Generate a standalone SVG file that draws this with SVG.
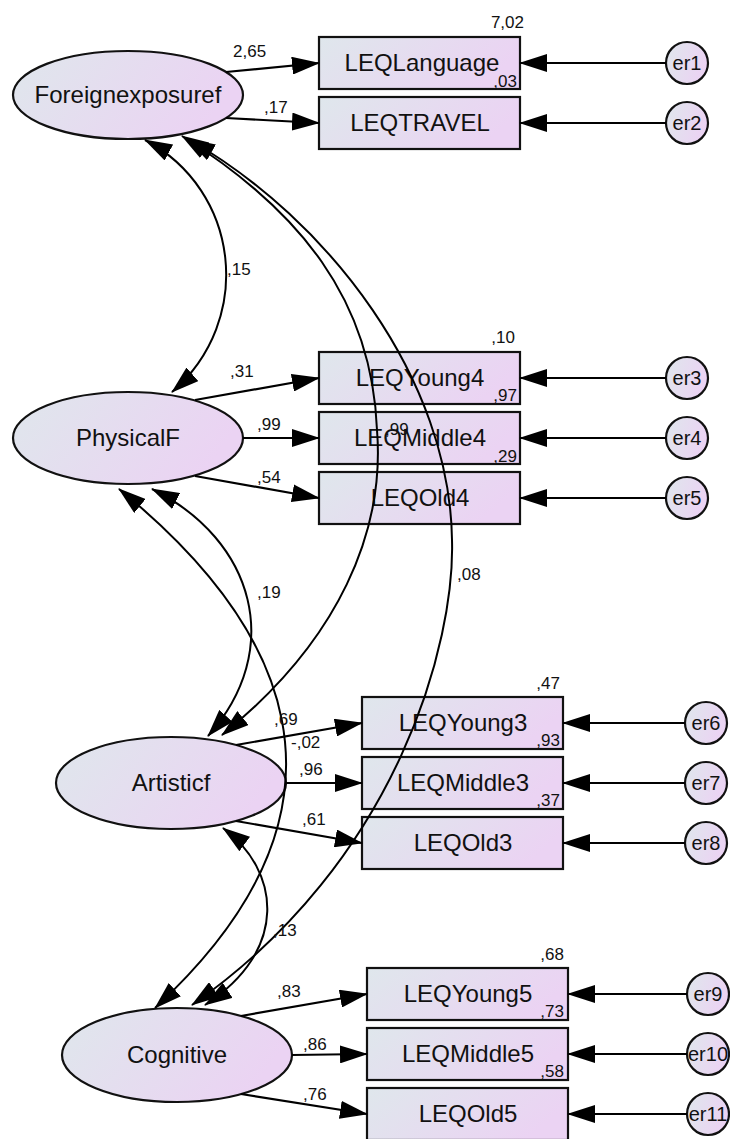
<svg xmlns="http://www.w3.org/2000/svg" width="730" height="1139" viewBox="0 0 730 1139">
  <style>
    .shape { fill: url(#fillGrad); stroke: #111; stroke-width: 2.2; }
    .name { font-family: "Liberation Sans", Arial, sans-serif; font-size: 24px; fill: #111; text-anchor: middle; }
    .err { font-family: "Liberation Sans", Arial, sans-serif; font-size: 20px; fill: #111; text-anchor: middle; }
    .num { font-family: "Liberation Sans", Arial, sans-serif; font-size: 17px; fill: #111; }
    .end { text-anchor: end; }
    .path { fill: none; stroke: #000; stroke-width: 2.2; marker-end: url(#head); }
    .cov { fill: none; stroke: #000; stroke-width: 2; marker-start: url(#head); marker-end: url(#head); }
  </style>
  <defs>
    <linearGradient id="fillGrad" x1="0" y1="0" x2="1" y2="0.3">
      <stop offset="0" stop-color="#dfe7ec"/>
      <stop offset="1" stop-color="#ebd3f3"/>
    </linearGradient>
    <marker id="head" markerUnits="userSpaceOnUse" markerWidth="28" markerHeight="18" viewBox="0 0 28 18" refX="27" refY="9" orient="auto-start-reverse">
      <path d="M0,0 L28,9 L0,18 Z" fill="#000"/>
    </marker>
  </defs>

  <rect width="730" height="1139" fill="#fff"/>

  <!-- latent factors -->
  <g id="foreignexposuref">
    <ellipse class="shape" cx="128" cy="95" rx="115" ry="44"/>
    <text class="name" x="128" y="103">Foreignexposuref</text>
  </g>
  <g id="physicalf">
    <ellipse class="shape" cx="128" cy="438" rx="115" ry="46"/>
    <text class="name" x="128" y="446">PhysicalF</text>
  </g>
  <g id="artisticf">
    <ellipse class="shape" cx="171" cy="783" rx="115" ry="46"/>
    <text class="name" x="171" y="791">Artisticf</text>
  </g>
  <g id="cognitive">
    <ellipse class="shape" cx="177" cy="1055" rx="115" ry="47"/>
    <text class="name" x="177" y="1063">Cognitive</text>
  </g>

  <!-- observed indicators -->
  <g id="leqlanguage">
    <rect class="shape" x="319" y="37" width="201" height="52"/>
    <text class="name" x="422" y="71">LEQLanguage</text>
    <text class="num end" x="524" y="28">7,02</text>
    <text class="num end" x="517" y="87">,03</text>
  </g>
  <g id="leqtravel">
    <rect class="shape" x="319" y="97" width="201" height="52"/>
    <text class="name" x="420" y="131">LEQTRAVEL</text>
  </g>
  <g id="leqyoung4">
    <rect class="shape" x="319" y="352" width="201" height="52"/>
    <text class="name" x="420" y="386">LEQYoung4</text>
    <text class="num end" x="515" y="343">,10</text>
    <text class="num end" x="517" y="401">,97</text>
  </g>
  <g id="leqmiddle4">
    <rect class="shape" x="319" y="412" width="201" height="52"/>
    <text class="name" x="420" y="446">LEQMiddle4</text>
    <text class="num end" x="517" y="462">,29</text>
  </g>
  <g id="leqold4">
    <rect class="shape" x="319" y="472" width="201" height="52"/>
    <text class="name" x="420" y="506">LEQOld4</text>
  </g>
  <g id="leqyoung3">
    <rect class="shape" x="362" y="697" width="201" height="52"/>
    <text class="name" x="463" y="731">LEQYoung3</text>
    <text class="num end" x="560" y="689">,47</text>
    <text class="num end" x="560" y="746">,93</text>
  </g>
  <g id="leqmiddle3">
    <rect class="shape" x="362" y="757" width="201" height="52"/>
    <text class="name" x="463" y="791">LEQMiddle3</text>
    <text class="num end" x="560" y="806">,37</text>
  </g>
  <g id="leqold3">
    <rect class="shape" x="362" y="817" width="201" height="52"/>
    <text class="name" x="463" y="851">LEQOld3</text>
  </g>
  <g id="leqyoung5">
    <rect class="shape" x="367" y="968" width="201" height="52"/>
    <text class="name" x="468" y="1002">LEQYoung5</text>
    <text class="num end" x="564" y="960">,68</text>
    <text class="num end" x="564" y="1017">,73</text>
  </g>
  <g id="leqmiddle5">
    <rect class="shape" x="367" y="1028" width="201" height="52"/>
    <text class="name" x="468" y="1062">LEQMiddle5</text>
    <text class="num end" x="564" y="1077">,58</text>
  </g>
  <g id="leqold5">
    <rect class="shape" x="367" y="1088" width="201" height="52"/>
    <text class="name" x="468" y="1122">LEQOld5</text>
  </g>

  <!-- error terms -->
  <g id="er1"><circle class="shape" cx="687" cy="63" r="21"/><text class="err" x="687" y="70">er1</text></g>
  <g id="er2"><circle class="shape" cx="687" cy="123" r="21"/><text class="err" x="687" y="130">er2</text></g>
  <g id="er3"><circle class="shape" cx="687" cy="378" r="21"/><text class="err" x="687" y="385">er3</text></g>
  <g id="er4"><circle class="shape" cx="687" cy="438" r="21"/><text class="err" x="687" y="445">er4</text></g>
  <g id="er5"><circle class="shape" cx="687" cy="498" r="21"/><text class="err" x="687" y="505">er5</text></g>
  <g id="er6"><circle class="shape" cx="706" cy="723" r="21"/><text class="err" x="706" y="730">er6</text></g>
  <g id="er7"><circle class="shape" cx="706" cy="783" r="21"/><text class="err" x="706" y="790">er7</text></g>
  <g id="er8"><circle class="shape" cx="706" cy="843" r="21"/><text class="err" x="706" y="850">er8</text></g>
  <g id="er9"><circle class="shape" cx="708" cy="994" r="21"/><text class="err" x="708" y="1001">er9</text></g>
  <g id="er10"><circle class="shape" cx="708" cy="1054" r="21"/><text class="err" x="708" y="1061">er10</text></g>
  <g id="er11"><circle class="shape" cx="708" cy="1114" r="21"/><text class="err" x="708" y="1121">er11</text></g>

  <g id="connectors">
    <!-- loadings -->
    <line class="path" x1="226" y1="72" x2="319" y2="63"/>
    <line class="path" x1="226" y1="118" x2="319" y2="123"/>
    <line class="path" x1="195" y1="400" x2="319" y2="378"/>
    <line class="path" x1="243" y1="438" x2="319" y2="438"/>
    <line class="path" x1="195" y1="476" x2="319" y2="498"/>
    <line class="path" x1="236" y1="745" x2="362" y2="723"/>
    <line class="path" x1="286" y1="783" x2="362" y2="783"/>
    <line class="path" x1="236" y1="821" x2="362" y2="843"/>
    <line class="path" x1="241" y1="1016" x2="367" y2="994"/>
    <line class="path" x1="292" y1="1055" x2="367" y2="1054"/>
    <line class="path" x1="241" y1="1094" x2="367" y2="1114"/>
    <!-- error paths -->
    <line class="path" x1="666" y1="63" x2="520" y2="63"/>
    <line class="path" x1="666" y1="123" x2="520" y2="123"/>
    <line class="path" x1="666" y1="378" x2="520" y2="378"/>
    <line class="path" x1="666" y1="438" x2="520" y2="438"/>
    <line class="path" x1="666" y1="498" x2="520" y2="498"/>
    <line class="path" x1="685" y1="723" x2="563" y2="723"/>
    <line class="path" x1="685" y1="783" x2="563" y2="783"/>
    <line class="path" x1="685" y1="843" x2="563" y2="843"/>
    <line class="path" x1="687" y1="994" x2="568" y2="994"/>
    <line class="path" x1="687" y1="1054" x2="568" y2="1054"/>
    <line class="path" x1="687" y1="1114" x2="568" y2="1114"/>
    <!-- covariances -->
    <path class="cov" d="M145,140 C240,190 255,320 172,392"/>
    <path class="cov" d="M182,136 C300,210 372,300 377,430 C385,530 340,640 222,735"/>
    <path class="cov" d="M188,139 C330,220 450,380 452,540 C455,640 400,860 192,1005"/>
    <path class="cov" d="M152,489 C255,540 285,650 208,736"/>
    <path class="cov" d="M119,489 C280,620 380,800 155,1008"/>
    <path class="cov" d="M223,828 C280,870 290,950 205,1005"/>
  </g>

  <!-- estimates on paths -->
  <g id="estimates">
    <text class="num" x="233" y="57">2,65</text>
    <text class="num" x="264" y="113">,17</text>
    <text class="num" x="230" y="377">,31</text>
    <text class="num" x="257" y="430">,99</text>
    <text class="num" x="257" y="483">,54</text>
    <text class="num" x="291" y="748">-,02</text>
    <text class="num" x="299" y="775">,96</text>
    <text class="num" x="302" y="825">,61</text>
    <text class="num" x="277" y="997">,83</text>
    <text class="num" x="303" y="1050">,86</text>
    <text class="num" x="303" y="1100">,76</text>
    <text class="num" x="227" y="275">,15</text>
    <text class="num" x="385" y="435">,99</text>
    <text class="num" x="257" y="598">,19</text>
    <text class="num" x="457" y="580">,08</text>
    <text class="num" x="274" y="725">,69</text>
    <text class="num" x="273" y="936">,13</text>
  </g>
</svg>
